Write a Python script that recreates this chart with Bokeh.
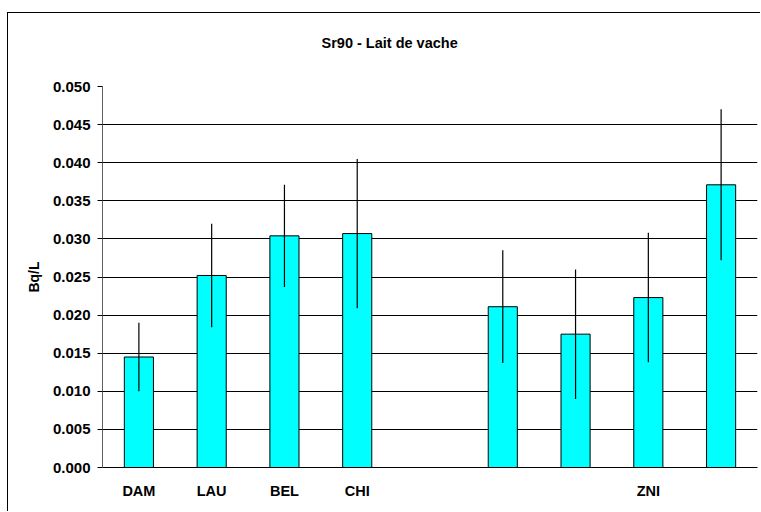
from bokeh.plotting import figure
from bokeh.models import ColumnDataSource, FixedTicker, NumeralTickFormatter, Range1d, Title
from bokeh.embed import file_html
from bokeh.resources import INLINE

# Data
slots = [1, 2, 3, 4, 5, 6, 7, 8, 9]
slot_labels = ["DAM", "LAU", "BEL", "CHI", "", "", "", "ZNI", ""]
values = [0.0145, 0.0252, 0.0304, 0.0307, None, 0.0211, 0.0175, 0.0223, 0.0371]
errors = [0.0045, 0.0068, 0.0067, 0.0098, None, 0.0074, 0.0085, 0.0085, 0.0099]
y_ticks = [0.000, 0.005, 0.010, 0.015, 0.020, 0.025, 0.030, 0.035, 0.040, 0.045, 0.050]
title_text = "Sr90 - Lait de vache"

xs = [s for s, v in zip(slots, values) if v is not None]
vs = [v for v in values if v is not None]
es = [e for e in errors if e is not None]
src = ColumnDataSource(dict(
    x=xs, top=vs,
    lo=[v - e for v, e in zip(vs, es)],
    hi=[v + e for v, e in zip(vs, es)],
))

FONT = "Liberation Sans"

p = figure(width=753, height=499, output_backend="svg", toolbar_location=None,
           x_range=Range1d(0.5, 9.5), y_range=Range1d(0, 0.05),
           min_border_left=94, min_border_right=4, min_border_top=73, min_border_bottom=45)
p.styles = {"margin-left": "7px", "margin-top": "12px",
            "border-left": "1px solid black", "border-top": "1px solid black"}
p.outline_line_color = None
p.background_fill_color = "white"
p.border_fill_color = "white"

p.title.text = ""
p.title.standoff = 0

# blank spacer title (closest to the frame), then the real title above it
p.add_layout(Title(text="\u00a0", align="left", standoff=18, text_font=FONT,
                   text_font_size="14.5px", text_font_style="bold"), "above")
p.add_layout(Title(text=title_text, align="left", vertical_align="bottom", offset=219,
                   standoff=0, text_font=FONT, text_font_size="14.5px",
                   text_font_style="bold", text_color="black"), "above")

p.vbar(x="x", top="top", bottom=0, width=0.4, source=src,
       fill_color="#00FFFF", line_color="black", line_width=1)
p.segment(x0="x", y0="lo", x1="x", y1="hi", source=src, line_color="black", line_width=1.2)

# y axis
p.yaxis.ticker = FixedTicker(ticks=y_ticks)
p.yaxis.formatter = NumeralTickFormatter(format="0.000")
p.yaxis.axis_label = "Bq/L"
p.yaxis.axis_label_text_font = FONT
p.yaxis.axis_label_text_font_size = "14px"
p.yaxis.axis_label_text_font_style = "bold"
p.yaxis.axis_label_text_color = "black"
p.yaxis.axis_label_standoff = 8
p.yaxis.major_label_text_font = FONT
p.yaxis.major_label_text_font_size = "15px"
p.yaxis.major_label_text_font_style = "bold"
p.yaxis.major_label_text_color = "black"
p.yaxis.major_label_standoff = 7
p.yaxis.major_tick_out = 5
p.yaxis.major_tick_in = 0
p.yaxis.minor_tick_out = 0
p.yaxis.minor_tick_in = 0
p.yaxis.major_tick_line_color = "black"
p.yaxis.axis_line_color = "#606060"

# x axis
p.xaxis.ticker = FixedTicker(ticks=slots)
p.xaxis.major_label_overrides = {s: l for s, l in zip(slots, slot_labels)}
p.xaxis.major_label_text_font = FONT
p.xaxis.major_label_text_font_size = "14.5px"
p.xaxis.major_label_text_font_style = "bold"
p.xaxis.major_label_text_color = "black"
p.xaxis.major_label_standoff = 15
p.xaxis.major_tick_out = 0
p.xaxis.major_tick_in = 0
p.xaxis.minor_tick_out = 0
p.xaxis.minor_tick_in = 0
p.xaxis.axis_line_color = "black"

p.xgrid.grid_line_color = None
p.ygrid.ticker = FixedTicker(ticks=y_ticks)
p.ygrid.grid_line_color = "black"
p.ygrid.grid_line_width = 1

open("out.html", "w").write(file_html(p, INLINE))
